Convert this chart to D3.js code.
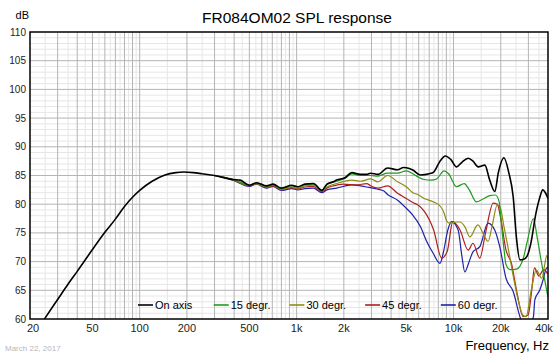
<!DOCTYPE html>
<html><head><meta charset="utf-8">
<script src="https://cdn.jsdelivr.net/npm/d3@7"></script>
<style>body{margin:0;background:#fff} text{font-family:"Liberation Sans",Arial,sans-serif}</style>
</head><body><svg id="c" width="560" height="356"></svg>
<script>
// ---- data ----
const xTickValues = [20,50,100,200,500,1000,2000,5000,10000,20000,40000];
const xTickLabels = ["20","50","100","200","500","1k","2k","5k","10k","20k","40k"];
const yTickValues = [60,65,70,75,80,85,90,95,100,105,110];
const seriesNames = ["On axis","15 degr.","30 degr.","45 degr.","60 degr."];
const seriesColors = ["#000000","#1f9a1f","#8c8c10","#b01e1e","#2020a8"];

const freqOnAxis = [22,25,30,35,40,50,60,70,80,90,100,120,145,170,190,220,250,300,394,436,500,556,644,708,798,930,1020,1130,1280,1450,1560,1713,1800,2030,2250,2550,2800,2960,3300,3800,4400,4800,5000,5500,6150,7000,7470,8200,8880,9600,10450,11300,12400,13300,14360,15840,17000,18330,19300,20940,22500,24000,25200,26500,28000,29500,31000,33500,35500,37000,38500,40000];
const splOnAxis  = [57.9,60.2,63.4,66.1,68.3,72.1,75.1,77.4,79.6,81.2,82.4,84.0,85.1,85.5,85.6,85.5,85.3,85.0,84.3,84.2,83.3,83.75,83.2,83.5,82.8,83.3,83.05,83.5,83.6,82.4,83.5,83.9,84.2,84.6,85.5,85.2,85.2,85.4,85.2,86.3,86.0,86.4,86.35,85.95,85.1,85.3,85.6,87.5,88.4,87.8,86.5,87.3,88.0,87.5,86.5,86.8,84.2,82.2,85.5,88.1,85.5,81.3,74,70.3,70.4,71,73,78.4,81.2,82.5,82,81.0];

const freq15 = [300,394,500,556,644,708,798,930,1020,1130,1280,1450,1560,1800,2030,2250,2550,2960,3300,3800,4400,5000,5500,5900,6500,7200,7800,8700,9300,10450,11700,12600,14000,15300,17000,18500,19500,20000,21000,21600,23000,25200,27800,29500,32300,34000,36000,38000,40000];
const spl15  = [85.0,84.3,83.3,83.7,83.1,83.4,82.7,83.2,83.0,83.4,83.5,82.4,83.4,84.0,84.5,85.3,85.0,85.0,84.9,85.4,85.4,85.8,85.3,84.8,84.3,84.2,84.4,85.8,85.3,83.05,83.6,82.5,80.4,80.85,81.5,81.6,80.5,77.8,72,69.5,68.6,68.7,70.5,73.5,77.5,74.5,70.5,67,63.8];

const freq30 = [300,394,500,556,644,708,798,930,1020,1130,1280,1450,1560,1800,2250,2550,2960,3300,3800,4400,5000,5500,5900,6500,7470,8260,8700,9000,9400,10450,11000,11800,12700,14300,15800,16600,17700,19000,19800,21000,22200,24400,26000,27600,29000,31300,33700,36500,39400,40000];
const spl30  = [85.0,84.3,83.3,83.6,83.0,83.3,82.6,83.0,82.8,83.2,83.3,82.3,83.0,83.6,84.2,84.0,84.4,83.9,85.0,83.9,83.05,82.0,81.7,81.0,80.4,79.6,78.5,77.2,76.7,76.9,76.9,76.1,74.3,76.4,74.3,73.5,76.5,79.9,79.5,76,72.6,66.5,63,60.7,60.4,65.05,68.5,67.1,71.1,70.3];

const freq45 = [300,394,500,556,644,708,798,930,1020,1130,1280,1450,1560,1713,1980,2400,2800,2960,3300,3800,4400,5000,5500,5900,6500,7470,8400,9100,9900,11000,12400,13300,14700,16000,17900,19000,20000,21600,23400,25200,27800,29900,31500,32800,35000,37500,40000];
const spl45  = [85.0,84.2,83.2,83.6,82.9,83.2,82.5,82.9,82.7,83.0,83.1,82.2,82.8,83.2,83.5,83.35,83.6,83.2,82.8,83.2,81.9,81.0,80.3,79.9,78.8,75.5,70.6,71.7,76.95,75.5,72.0,73.2,70.6,75,80.2,80,77.5,72,69.7,65,60.4,60.7,65,68.9,67.5,68.6,67.8];

const freq60 = [300,394,500,556,644,708,798,930,1020,1130,1280,1450,1560,1800,2250,2550,2800,3300,3600,3800,4400,5000,5500,6150,6750,7400,8200,8600,9200,9700,10700,11300,11800,12500,13300,14700,16600,18300,19700,21600,24000,26500,28500,30700,32300,33000,35400,37200,39000,40000];
const spl60  = [85.0,84.2,83.1,83.5,82.8,83.1,82.4,82.7,82.5,82.7,82.8,82.0,82.5,82.8,83.35,83.2,83.0,82.6,82.3,81.7,80.7,79.3,78.1,76.1,73.5,71.5,69.7,71.5,75.5,76.95,75.5,71,68.2,69.8,71.7,72.6,76.7,75.5,72.6,67.1,64.8,60.4,58.5,59,60.4,63.4,65,66.8,68.8,69];

// ---- layout ----
const L = 30, R = 548, T = 32, B = 319;
const svg = d3.select("#c");
const x = d3.scaleLog().domain([20,40000]).range([L,R]);
const y = d3.scaleLinear().domain([60,110]).range([B,T]);

// grid
const g = svg.append("g");
const minorY = d3.range(60,111,1);
g.selectAll("line.hy").data(minorY.filter(v=>v%5!==0)).join("line")
  .attr("x1",L).attr("x2",R).attr("y1",d=>y(d)).attr("y2",d=>y(d))
  .attr("stroke","#e6e6e6").attr("stroke-width",1);
const vMinor = [], vMajor = [];
[10,100,1000,10000].forEach(dec=>{
  for(let m=1;m<=9.5;m+=0.5){
    const f = m*dec;
    if(f>20 && f<40000){ (m%1===0 ? vMajor : vMinor).push(f); }
  }
});
g.selectAll("line.vmin").data(vMinor).join("line")
  .attr("y1",T).attr("y2",B).attr("x1",d=>x(d)).attr("x2",d=>x(d))
  .attr("stroke","#e6e6e6").attr("stroke-width",1);
g.selectAll("line.vmaj").data(vMajor).join("line")
  .attr("y1",T).attr("y2",B).attr("x1",d=>x(d)).attr("x2",d=>x(d))
  .attr("stroke","#b4b4b4").attr("stroke-width",1);
g.selectAll("line.hy5").data(yTickValues.slice(1,-1)).join("line")
  .attr("x1",L).attr("x2",R).attr("y1",d=>y(d)).attr("y2",d=>y(d))
  .attr("stroke","#b4b4b4").attr("stroke-width",1);

// clip
svg.append("clipPath").attr("id","clip").append("rect")
  .attr("x",L).attr("y",T).attr("width",R-L).attr("height",B-T);

const series = [
  {f:freq60, v:spl60, i:4},
  {f:freq45, v:spl45, i:3},
  {f:freq30, v:spl30, i:2},
  {f:freq15, v:spl15, i:1},
  {f:freqOnAxis, v:splOnAxis, i:0}
];
const line = d3.line().curve(d3.curveMonotoneX);
const cg = svg.append("g").attr("clip-path","url(#clip)");
series.forEach(s=>{
  const pts = s.f.map((f,k)=>[x(f), y(s.v[k])]);
  cg.append("path").attr("d",line(pts)).attr("fill","none")
    .attr("stroke",seriesColors[s.i]).attr("stroke-width", s.i===0?1.6:1.2)
    .attr("stroke-linejoin","round");
});

// legend
const lg = svg.append("g");
const legX0 = 138, legDx = 75.7, legY = 305;
seriesNames.forEach((n,i)=>{
  const lx = legX0 + i*legDx;
  lg.append("line").attr("x1",lx).attr("x2",lx+15).attr("y1",legY).attr("y2",legY)
    .attr("stroke",seriesColors[i]).attr("stroke-width",1.6);
  lg.append("text").attr("x",lx+17).attr("y",legY+4).attr("font-size",11).text(n);
});

// frame
svg.append("rect").attr("x",L).attr("y",T).attr("width",R-L).attr("height",B-T)
  .attr("fill","none").attr("stroke","#000").attr("stroke-width",1.5);

// y labels
svg.selectAll("text.yl").data(yTickValues).join("text")
  .attr("x",26).attr("y",d=>y(d)+3.5).attr("text-anchor","end")
  .attr("font-size",10).attr("fill","#222").text(d=>d);
// x labels
svg.selectAll("text.xl").data(xTickValues).join("text")
  .attr("x",(d,i)=>x(d) + (i===0?3:(i===xTickValues.length-1?-4:0)))
  .attr("y",332).attr("text-anchor","middle")
  .attr("font-size",11).attr("fill","#222").text((d,i)=>xTickLabels[i]);

svg.append("text").attr("x",29).attr("y",19).attr("text-anchor","end").attr("font-size",11).text("dB");
svg.append("text").attr("x",297).attr("y",23).attr("text-anchor","middle").attr("font-size",15.5).text("FR084OM02 SPL response");
svg.append("text").attr("x",549).attr("y",350).attr("text-anchor","end").attr("font-size",13).text("Frequency, Hz");
svg.append("text").attr("x",5).attr("y",351).attr("font-size",8).attr("fill","#b8b8b8").text("March 22, 2017");
</script></body></html>
